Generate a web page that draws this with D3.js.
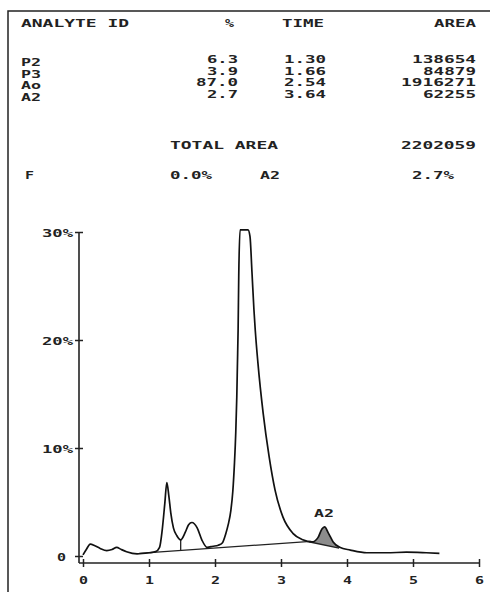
<!DOCTYPE html>
<html>
<head>
<meta charset="utf-8">
<script src="https://cdn.jsdelivr.net/npm/d3@7"></script>
<style>
  body { margin: 0; background: #fff; }
  text { font-family: "DejaVu Sans Mono", monospace; font-size: 11px; font-weight: bold; fill: #222; }
  #table text.row { font-size: 10px; }
</style>
</head>
<body>
<div class="container"></div>
<script>
// report table
const analyteIds = ["P2", "P3", "Ao", "A2"]
const percents = ["6.3", "3.9", "87.0", "2.7"]
const times = ["1.30", "1.66", "2.54", "3.64"]
const areas = ["138654", "84879", "1916271", "62255"]
const totalArea = "2202059"
const footer = ["F", "0.0%", "A2", "2.7%"]

// trace (minutes, % of full scale) - main peak is clipped at the top of the scale
const traceTime = [0, 0.05, 0.11, 0.18, 0.26, 0.36, 0.44, 0.51, 0.58, 0.66, 0.82, 1.0, 1.1, 1.16, 1.2, 1.24, 1.27, 1.30, 1.33, 1.37, 1.42, 1.48,
  1.55, 1.6, 1.65, 1.73, 1.8, 1.88, 1.97, 2.05, 2.11, 2.16, 2.2, 2.24, 2.27, 2.295, 2.315, 2.33, 2.34, 2.35, 2.36, 2.38, 2.5, 2.53, 2.56, 2.59, 2.61, 2.65,
  2.73, 2.82, 2.91, 3.03, 3.18, 3.33, 3.47, 3.56, 3.62, 3.66, 3.72, 3.79, 3.89, 4.05, 4.3, 4.6, 4.9, 5.2, 5.4]
const traceValue = [0.1, 0.6, 1.1, 0.95, 0.7, 0.5, 0.6, 0.8, 0.6, 0.4, 0.2, 0.3, 0.4, 0.8, 2.4, 4.9, 6.8, 5.6, 4.0, 2.6, 1.9, 1.5,
  2.2, 2.9, 3.1, 2.6, 1.5, 0.8, 0.9, 1.0, 1.2, 2.0, 2.9, 4.2, 6.0, 8.6, 11.5, 14.7, 17.8, 20.9, 26.0, 30.2, 30.2, 29.6, 26.3, 22.8, 20.9, 17.9,
  13.2, 9.2, 6.1, 3.6, 2.1, 1.5, 1.3, 1.7, 2.5, 2.7, 2.1, 1.3, 0.8, 0.55, 0.3, 0.3, 0.35, 0.3, 0.25]

// integration baseline, P2/P3 drop line and A2 base
const baseTime = [0.85, 3.45]
const baseValue = [0.25, 1.35]
const dropTime = [1.48, 1.48]
const dropValue = [1.5, 0.52]
const a2BaseTime = [3.42, 3.88]
const a2BaseValue = [1.32, 0.72]

const yTicks = [0, 10, 20, 30]
const xTicks = [0, 1, 2, 3, 4, 5, 6]

const w = 490
const h = 592
const charW = 11

const svg = d3.select('.container')
  .append('svg')
  .attr('width', w)
  .attr('height', h)

// frame
svg.append('path')
  .attr('d', 'M8,592 V11 H490')
  .attr('fill', 'none')
  .attr('stroke', '#222')
  .attr('stroke-width', 1.5)

// printer style text, stretched to a fixed cell width
const addText = (g, str, x, y, anchor) => {
  return g.append('text')
    .attr('x', x)
    .attr('y', y + 4)
    .attr('text-anchor', anchor || 'start')
    .attr('textLength', str.length * charW - 2)
    .attr('lengthAdjust', 'spacingAndGlyphs')
    .text(str)
}

const table = svg.append('g').attr('id', 'table')
addText(table, "ANALYTE ID", 21, 23)
addText(table, "%", 225, 23)
addText(table, "TIME", 282, 23)
addText(table, "AREA", 476, 23, 'end')

analyteIds.forEach((id, i) => {
  const y = 59 + i * 11.5
  addText(table, id, 21, y + 3).classed('row', true)
  addText(table, percents[i], 238, y, 'end').classed('row', true)
  addText(table, times[i], 326, y, 'end').classed('row', true)
  addText(table, areas[i], 476, y, 'end').classed('row', true)
})

addText(table, "TOTAL AREA", 170, 145)
addText(table, totalArea, 476, 145, 'end')

addText(table, footer[0], 25, 175)
addText(table, footer[1], 170, 175)
addText(table, footer[2], 260, 175)
addText(table, footer[3], 412, 175)

// scales
const xScale = d3.scaleLinear().domain([0, 6]).range([83, 479])
const yScale = d3.scaleLinear().domain([0, 30]).range([556, 232])
const axisY = 563
const axisX = 79

// x axis
const xAxis = d3.axisBottom(xScale)
  .tickValues(xTicks)
  .tickSize(4)
  .tickPadding(10)
  .tickFormat(d3.format('d'))

const gx = svg.append('g')
  .attr('id', 'x-axis')
  .attr('transform', 'translate(0,' + axisY + ')')
  .call(xAxis)
gx.select('.domain').remove()
gx.selectAll('.tick line').attr('y1', -4).attr('y2', 4).attr('stroke', '#222').attr('stroke-width', 1.5)
gx.selectAll('.tick text')
  .attr('y', 21)
  .attr('dy', null)
  .attr('textLength', charW - 2)
  .attr('lengthAdjust', 'spacingAndGlyphs')
gx.append('line')
  .attr('x1', axisX).attr('x2', xScale(6))
  .attr('stroke', '#222').attr('stroke-width', 1.6)

// y axis
const yAxis = d3.axisLeft(yScale)
  .tickValues(yTicks)
  .tickSize(4)
  .tickFormat(d => d ? d + "%" : "0")

const gy = svg.append('g')
  .attr('id', 'y-axis')
  .attr('transform', 'translate(' + axisX + ',0)')
  .call(yAxis)
gy.select('.domain').remove()
gy.selectAll('.tick line').attr('x1', -4).attr('x2', 4).attr('stroke', '#222').attr('stroke-width', 1.5)
gy.selectAll('.tick text')
  .attr('x', d => d ? -6 : -13)
  .attr('dy', null)
  .attr('y', 4)
  .attr('textLength', d => (d ? 3 : 1) * charW - 2)
  .attr('lengthAdjust', 'spacingAndGlyphs')
gy.append('line')
  .attr('y1', yScale(30)).attr('y2', axisY)
  .attr('stroke', '#222').attr('stroke-width', 1.6)

// trace
const trace = traceTime.map((t, i) => ({ t: t, v: traceValue[i] }))

const line = d3.line()
  .x(d => xScale(d.t))
  .y(d => yScale(d.v))
  .curve(d3.curveMonotoneX)

// A2 shaded area: trace above the A2 base line
const a2Clip = [
  [a2BaseTime[0], a2BaseValue[0]], [a2BaseTime[1], a2BaseValue[1]],
  [a2BaseTime[1], 10], [a2BaseTime[0], 10]
]
svg.append('clipPath')
  .attr('id', 'a2clip')
  .append('path')
  .attr('d', 'M' + a2Clip.map(p => xScale(p[0]) + ',' + yScale(p[1])).join('L') + 'Z')

svg.append('path')
  .datum(trace)
  .attr('clip-path', 'url(#a2clip)')
  .attr('fill', '#8c8c8c')
  .attr('d', d3.area()
    .x(d => xScale(d.t))
    .y0(yScale(0))
    .y1(d => yScale(d.v))
    .curve(d3.curveMonotoneX))

// baseline, drop line, A2 base
const segs = [[baseTime, baseValue], [dropTime, dropValue], [a2BaseTime, a2BaseValue]]
svg.append('g')
  .selectAll('path')
  .data(segs)
  .enter()
  .append('path')
  .attr('d', s => d3.line().x(d => xScale(d[0])).y(d => yScale(d[1]))(s[0].map((t, i) => [t, s[1][i]])))
  .attr('fill', 'none')
  .attr('stroke', '#222')
  .attr('stroke-width', 1.3)

svg.append('path')
  .datum(trace)
  .attr('d', line)
  .attr('fill', 'none')
  .attr('stroke', '#111')
  .attr('stroke-width', 1.7)
  .attr('stroke-linejoin', 'round')

// peak label
addText(svg, "A2", xScale(3.65), 513, 'middle')
</script>
</body>
</html>
